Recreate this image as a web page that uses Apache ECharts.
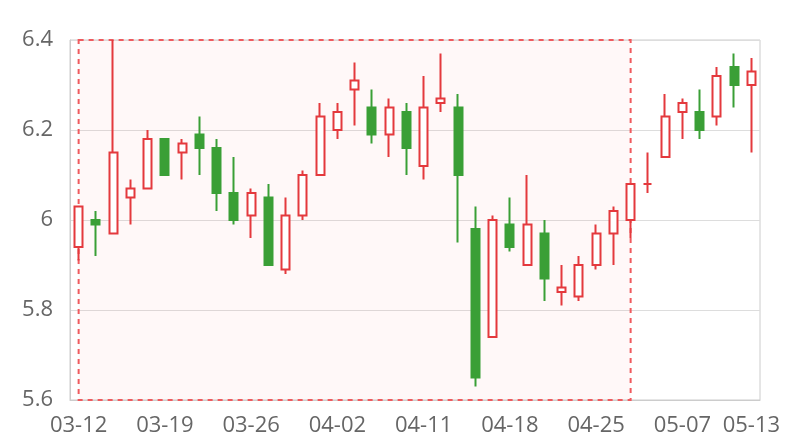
<!DOCTYPE html>
<html>
<head>
<meta charset="utf-8">
<script src="https://cdn.jsdelivr.net/npm/echarts@6/dist/echarts.min.js"></script>
<style>html,body{margin:0;padding:0;background:#fff}#c{width:800px;height:440px}</style>
</head>
<body>
<div id="c"></div>
<script>
var dates = ['03-12','03-13','03-14','03-15','03-16','03-19','03-20','03-21','03-22','03-23',
  '03-26','03-27','03-28','03-29','03-30','04-02','04-03','04-04','04-09','04-10',
  '04-11','04-12','04-13','04-16','04-17','04-18','04-19','04-20','04-23','04-24',
  '04-25','04-26','04-27','05-02','05-03','05-07','05-08','05-09','05-10','05-13'];
var openVals  = [5.94,6.00,5.97,6.05,6.07,6.18,6.15,6.19,6.16,6.06,
  6.01,6.05,5.89,6.01,6.10,6.20,6.29,6.25,6.19,6.24,
  6.12,6.26,6.25,5.98,5.74,5.99,5.90,5.97,5.84,5.83,
  5.90,5.97,6.00,6.08,6.14,6.24,6.24,6.23,6.34,6.30];
var closeVals = [6.03,5.99,6.15,6.07,6.18,6.10,6.17,6.16,6.06,6.00,
  6.06,5.90,6.01,6.10,6.23,6.24,6.31,6.19,6.25,6.16,
  6.25,6.27,6.10,5.65,6.00,5.94,5.99,5.87,5.85,5.90,
  5.97,6.02,6.08,6.08,6.23,6.26,6.20,6.32,6.30,6.33];
var lowVals   = [5.91,5.92,5.97,5.99,6.07,6.10,6.09,6.10,6.02,5.99,
  5.96,5.90,5.88,6.00,6.10,6.18,6.21,6.17,6.14,6.10,
  6.09,6.24,5.95,5.63,5.74,5.93,5.90,5.82,5.81,5.82,
  5.89,5.90,5.96,6.06,6.14,6.18,6.18,6.21,6.25,6.15];
var highVals  = [6.03,6.02,6.40,6.09,6.20,6.18,6.18,6.23,6.18,6.14,
  6.07,6.08,6.05,6.11,6.26,6.26,6.35,6.29,6.27,6.26,
  6.32,6.37,6.28,6.03,6.01,6.05,6.10,6.00,5.90,5.92,
  5.99,6.03,6.08,6.15,6.28,6.27,6.29,6.34,6.37,6.36];
var yTicks = {min: 5.6, max: 6.4, interval: 0.2};
var markStart = '03-12', markEnd = '04-27';

var ohlc = dates.map(function(d, i){ return [openVals[i], closeVals[i], lowVals[i], highVals[i]]; });
var lastIdx = dates.length - 1;

var chart = echarts.init(document.getElementById('c'), null, {renderer: 'canvas'});
chart.setOption({
  animation: false,
  backgroundColor: '#fff',
  grid: {left: 70, right: 40, top: 40, bottom: 40, show: true, borderColor: '#ccc', borderWidth: 1, backgroundColor: 'transparent'},
  xAxis: {
    type: 'category',
    data: dates,
    boundaryGap: true,
    axisLine: {show: true, lineStyle: {color: '#ccc'}},
    axisTick: {show: false},
    splitLine: {show: false},
    axisLabel: {
      color: '#666', fontSize: 22, fontFamily: 'Open Sans', margin: 15,
      interval: function(i){ return i % 5 === 0 || i === lastIdx; }
    }
  },
  yAxis: {
    type: 'value',
    min: yTicks.min, max: yTicks.max, interval: yTicks.interval,
    axisLine: {show: true, lineStyle: {color: '#ccc'}},
    axisTick: {show: false},
    splitLine: {show: true, lineStyle: {color: '#ddd'}},
    axisLabel: {color: '#666', fontSize: 22, fontFamily: 'Open Sans', margin: 17}
  },
  series: [{
    type: 'candlestick',
    data: ohlc,
    itemStyle: {
      color: '#ffffff',
      color0: '#3a9f36',
      borderColor: '#e4393d',
      borderColor0: '#3a9f36',
      borderWidth: 2
    },
    markArea: {
      silent: true,
      itemStyle: {
        color: 'rgba(255,60,60,0.035)',
        borderColor: '#f05a5e',
        borderWidth: 2,
        borderType: [5, 5]
      },
      data: [[{xAxis: markStart, yAxis: yTicks.max}, {xAxis: markEnd, yAxis: yTicks.min}]]
    }
  }]
});
</script>
</body>
</html>
